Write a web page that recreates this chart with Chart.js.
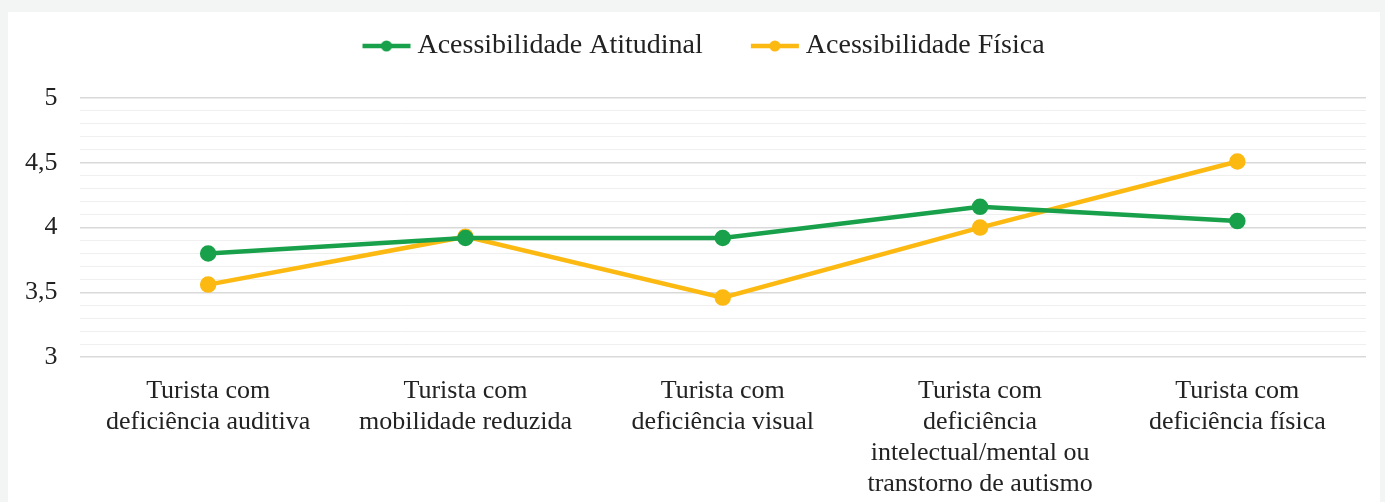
<!DOCTYPE html>
<html>
<head>
<meta charset="utf-8">
<script src="https://cdn.jsdelivr.net/npm/chart.js@4"></script>
<style>
  html, body { margin: 0; padding: 0; background: #f3f5f4; }
  #card { position: absolute; left: 8px; top: 12px; width: 1372px; height: 490px; background: #ffffff; }
</style>
</head>
<body>
<div id="card"><canvas id="grafico"></canvas></div>
<script>
// categorias do eixo x
var categorias = [
    ["Turista com", "deficiência auditiva"],
    ["Turista com", "mobilidade reduzida"],
    ["Turista com", "deficiência visual"],
    ["Turista com", "deficiência", "intelectual/mental ou", "transtorno de autismo"],
    ["Turista com", "deficiência física"]
];
var atitudinal = [3.80, 3.92, 3.92, 4.16, 4.05];
var fisica = [3.56, 3.93, 3.46, 4.00, 4.51];
var yMin = 3, yMax = 5;

var verde = "#18a14a";
var amarelo = "#fbb912";
var fonte = "Liberation Serif";

// marcador da legenda: linha com ponto, encostada à direita (deixa espaço entre itens)
function marcador(cor) {
    var c = document.createElement("canvas");
    c.width = 95; c.height = 12;
    var g = c.getContext("2d");
    g.strokeStyle = cor; g.lineWidth = 4.5;
    g.beginPath(); g.moveTo(46, 6); g.lineTo(94, 6); g.stroke();
    g.fillStyle = cor;
    g.beginPath(); g.arc(70, 6, 5.5, 0, Math.PI * 2); g.fill();
    return c;
}

function ehMaior(v) {
    return Math.abs(v * 2 - Math.round(v * 2)) < 1e-6;
}

// espaço extra abaixo da legenda
var margemLegenda = {
    id: "margemLegenda",
    beforeInit: function (chart) {
        var fitOriginal = chart.legend.fit;
        chart.legend.fit = function () {
            fitOriginal.bind(chart.legend)();
            this.height += 28;
        };
    }
};

var ctx = document.getElementById("grafico").getContext("2d");
var grafico = new Chart(ctx, {
    type: "line",
    data: {
        labels: categorias,
        datasets: [{
            label: "Acessibilidade Atitudinal",
            data: atitudinal,
            borderColor: verde,
            backgroundColor: verde,
            borderWidth: 4.5,
            pointRadius: 6,
            pointHoverRadius: 6
        }, {
            label: "Acessibilidade Física",
            data: fisica,
            borderColor: amarelo,
            backgroundColor: amarelo,
            borderWidth: 4.5,
            pointRadius: 6,
            pointHoverRadius: 6
        }]
    },
    plugins: [margemLegenda],
    options: {
        responsive: true,
        maintainAspectRatio: false,
        animation: false,
        layout: { padding: { top: 10, left: -5, right: 14, bottom: -16 } },
        plugins: {
            tooltip: { enabled: false },
            legend: {
                position: "top",
                labels: {
                    usePointStyle: true,
                    pointStyleWidth: 79,
                    padding: 10,
                    color: "#222",
                    font: { family: fonte, size: 28 },
                    generateLabels: function (chart) {
                        return chart.data.datasets.map(function (ds, i) {
                            return {
                                text: ds.label,
                                pointStyle: marcador(ds.borderColor),
                                fillStyle: ds.borderColor,
                                strokeStyle: ds.borderColor,
                                lineWidth: 0,
                                hidden: false,
                                datasetIndex: i,
                                fontColor: "#222"
                            };
                        });
                    }
                }
            }
        },
        scales: {
            x: {
                offset: true,
                grid: { display: false, drawTicks: false },
                border: { display: false },
                ticks: {
                    color: "#222",
                    maxRotation: 0,
                    autoSkip: false,
                    padding: 18,
                    font: { family: fonte, size: 26, lineHeight: 1.2 }
                }
            },
            y: {
                min: yMin,
                max: yMax,
                border: { display: false },
                grid: {
                    drawTicks: false,
                    color: function (c) { return ehMaior(c.tick.value) ? "#d9d9d9" : "#efefef"; },
                    lineWidth: function (c) { return ehMaior(c.tick.value) ? 1.5 : 1; }
                },
                ticks: {
                    stepSize: 0.1,
                    autoSkip: false,
                    padding: 22,
                    color: "#222",
                    font: { family: fonte, size: 26 },
                    callback: function (v) {
                        if (!ehMaior(v)) return "";
                        return (Math.round(v * 2) / 2).toString().replace(".", ",");
                    }
                }
            }
        }
    }
});
</script>
</body>
</html>
